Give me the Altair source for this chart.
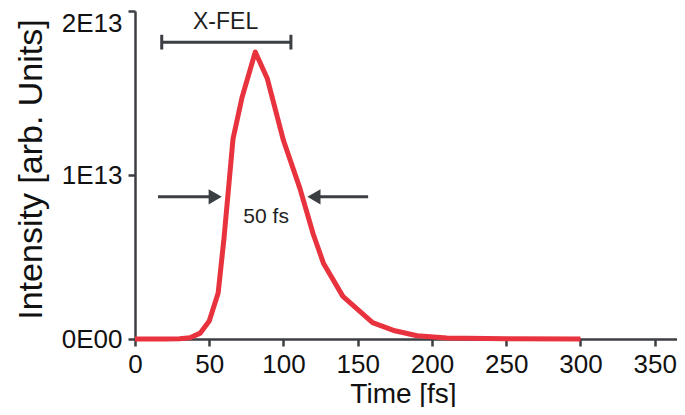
import altair as alt
import pandas as pd

# Pulse intensity profile (values in units of 1E13)
time_fs = [0, 20, 30, 37, 44, 50, 56, 60, 63, 66, 72, 81, 89, 100, 111, 120, 127,
           140, 160, 175, 190, 210, 250, 300]
intensity_e13 = [0, 0, 0.002, 0.008, 0.036, 0.11, 0.28, 0.62, 0.92, 1.22, 1.47, 1.75,
                 1.59, 1.21, 0.92, 0.64, 0.46, 0.26, 0.10, 0.05, 0.02, 0.006, 0.002, 0]

y_tick_values = [0, 1e13, 2e13]
y_tick_labels = ["0E00", "1E13", "2E13"]
x_tick_values = list(range(0, 351, 25))

# annotations (data units)
xfel_bar = [18, 105]
xfel_bar_y = 1.81e13
xfel_cap_half = 0.045e13
xfel_label = ("X-FEL", 61, 1.935e13)
arrow_y = 0.867e13
left_arrow = [15.5, 54]     # shaft start, head centre
right_arrow = [157, 120.5]  # shaft start, head centre
fwhm_label = ("50 fs", 88.3, 0.745e13)

RED = "#e8323e"
DARK = "#3b3e42"

df = pd.DataFrame({"t": time_fs, "I": [v * 1e13 for v in intensity_e13]})

label_expr = " : ".join(
    f"datum.value == {v:.0f} ? '{l}'" for v, l in zip(y_tick_values[:-1], y_tick_labels[:-1])
) + f" : '{y_tick_labels[-1]}'"

xscale = alt.Scale(domain=[0, 365], nice=False, zero=False)
yscale = alt.Scale(domain=[0, 2e13], nice=False)

line = alt.Chart(df).mark_line(color=RED, strokeWidth=5, strokeJoin="round").encode(
    x=alt.X("t:Q", scale=xscale, title="Time [fs]",
            axis=alt.Axis(values=x_tick_values,
                          labelExpr="datum.value % 50 == 0 ? datum.label : ''",
                          labelFlush=False, labelOverlap=False,
                          tickSize={"condition": {"test": "datum.value % 50 == 0", "value": 7}, "value": 4},
                          grid=False, labelPadding=5,
                          labelFontSize=26, titleFontSize=28,
                          titleX=268, titleY=63, titleBaseline="alphabetic",
                          titleAlign="center")),
    y=alt.Y("I:Q", scale=yscale, title="Intensity [arb. Units]",
            axis=alt.Axis(values=y_tick_values, labelExpr=label_expr,
                          grid=False, tickSize=7, labelPadding=6,
                          labelOffset={"condition": {"test": "datum.value == 20000000000000", "value": 12}, "value": 0},
                          labelFontSize=26, titleFontSize=34,
                          titleX=-121, titleY=158, titleBaseline="top",
                          titleAngle=270, titleAlign="center")),
)

bar_df = pd.DataFrame({"x": [xfel_bar[0]], "x2": [xfel_bar[1]], "y": [xfel_bar_y]})
bar = alt.Chart(bar_df).mark_rule(color=DARK, strokeWidth=3).encode(
    x=alt.X("x:Q", scale=xscale), x2="x2:Q", y=alt.Y("y:Q", scale=yscale))

caps_df = pd.DataFrame({"x": xfel_bar, "y": [xfel_bar_y - xfel_cap_half] * 2,
                        "y2": [xfel_bar_y + xfel_cap_half] * 2})
caps = alt.Chart(caps_df).mark_rule(color=DARK, strokeWidth=3).encode(
    x=alt.X("x:Q", scale=xscale), y=alt.Y("y:Q", scale=yscale), y2="y2:Q")

shaft_df = pd.DataFrame({"x": [left_arrow[0], right_arrow[0]],
                         "x2": [left_arrow[1], right_arrow[1]],
                         "y": [arrow_y, arrow_y]})
shafts = alt.Chart(shaft_df).mark_rule(color=DARK, strokeWidth=3).encode(
    x=alt.X("x:Q", scale=xscale), x2="x2:Q", y=alt.Y("y:Q", scale=yscale))

heads_df = pd.DataFrame({"x": [left_arrow[1], right_arrow[1]], "y": [arrow_y, arrow_y],
                         "shape": ["triangle-right", "triangle-left"]})
heads = alt.Chart(heads_df).mark_point(filled=True, color=DARK, opacity=1, size=230).encode(
    x=alt.X("x:Q", scale=xscale), y=alt.Y("y:Q", scale=yscale),
    shape=alt.Shape("shape:N", scale=None))

text_df = pd.DataFrame({"label": [xfel_label[0], fwhm_label[0]],
                        "x": [xfel_label[1], fwhm_label[1]],
                        "y": [xfel_label[2], fwhm_label[2]],
                        "size": [23, 21]})
texts = alt.Chart(text_df).mark_text(font="Liberation Sans", color="#1e1e1e",
                                     baseline="middle", align="center").encode(
    x=alt.X("x:Q", scale=xscale), y=alt.Y("y:Q", scale=yscale), text="label:N",
    size=alt.Size("size:Q", scale=None))

chart = alt.layer(line, bar, caps, shafts, heads, texts).properties(
    width=542, height=328,
    autosize=alt.AutoSizeParams(type="none"),
    padding={"left": 127, "top": 3, "right": 0, "bottom": 68},
).configure_view(stroke=None).configure_axis(
    domainColor=DARK, domainWidth=2.5, tickColor=DARK, tickWidth=2.5,
    labelFont="Liberation Sans", titleFont="Liberation Sans",
    labelColor="#111", titleColor="#111", titleFontWeight="normal",
)

chart.save("out.html", embed_options={"renderer": "svg", "actions": False})
